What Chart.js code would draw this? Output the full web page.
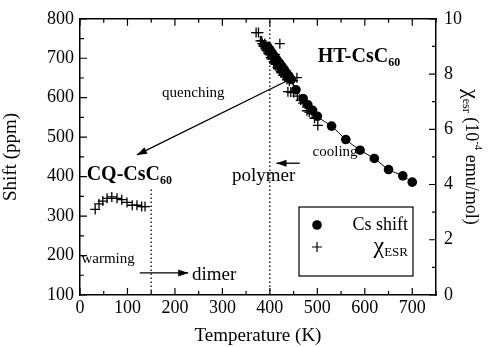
<!DOCTYPE html>
<html>
<head>
<meta charset="utf-8">
<script src="https://cdn.jsdelivr.net/npm/chart.js@4.4.1/dist/chart.umd.min.js"></script>
<style>
  html, body { margin: 0; padding: 0; background: #fff; }
  #wrap { width: 493px; height: 347px; }
</style>
</head>
<body>
<div id="wrap"><canvas id="myChart"></canvas></div>
<script>
// Cs NMR shift (left axis, ppm)
const csT     = [395, 400, 405, 410, 415, 420, 425, 430, 435, 440, 445, 455, 470, 480, 490, 500, 530, 560, 590, 620, 650, 680, 700];
const csShift = [730, 722, 713, 705, 696, 688, 680, 672, 663, 655, 646, 620, 598, 582, 568, 553, 528, 494, 467, 446, 418, 402, 386];

// ESR susceptibility, HT phase (right axis, 10^-4 emu/mol)
const esrT   = [371, 376, 380, 383, 384, 386, 387, 389, 390, 391, 393, 394, 396, 397, 399, 400, 402, 403, 405, 406, 408, 409, 411, 412, 413, 416, 417, 419, 421, 420, 423, 424, 426, 428, 430, 432, 434, 436, 438, 441, 442, 449, 457, 438, 444, 450, 458, 465, 470, 478, 483, 489, 494, 501];
const esrChi = [9.5, 9.5, 9.2, 9.2, 9.1, 9.05, 9.0, 9.1, 8.95, 8.9, 8.85, 8.95, 8.8, 8.75, 8.7, 8.8, 8.6, 8.55, 8.55, 8.6, 8.45, 8.4, 8.7, 8.35, 8.45, 8.25, 8.2, 8.3, 9.1, 8.15, 8.1, 8.05, 8.15, 7.95, 7.95, 7.9, 8.0, 7.8, 7.85, 7.75, 7.9, 7.76, 7.87, 7.36, 7.35, 7.33, 7.2, 7.05, 6.95, 6.67, 6.62, 6.57, 6.4, 6.14];

// ESR susceptibility, CQ phase
const cqT   = [32, 40, 48, 57, 67, 78, 88, 99, 110, 120, 130, 137];
const cqChi = [3.1, 3.3, 3.4, 3.5, 3.55, 3.5, 3.45, 3.35, 3.25, 3.25, 3.2, 3.2];

// dotted transition markers (K)
const dimerT = 150;
const polymerT = 400;

const xTicks = [0, 100, 200, 300, 400, 500, 600, 700];

const serif = "'Liberation Serif', 'DejaVu Serif', serif";

function pts(xs, ys) {
  return xs.map((v, i) => ({ x: v, y: ys[i] }));
}

function drawParts(ctx, parts, x, y, align) {
  let w = 0;
  parts.forEach(p => { ctx.font = p.font; w += ctx.measureText(p.t).width; });
  let cx = align === 'center' ? x - w / 2 : (align === 'right' ? x - w : x);
  parts.forEach(p => {
    ctx.font = p.font;
    ctx.fillText(p.t, cx, y + (p.dy || 0));
    cx += ctx.measureText(p.t).width;
  });
}

function arrow(ctx, x1, y1, x2, y2) {
  ctx.beginPath();
  ctx.moveTo(x1, y1); ctx.lineTo(x2, y2);
  ctx.stroke();
  const a = Math.atan2(y2 - y1, x2 - x1);
  const L = 10, W = 3.5;
  ctx.beginPath();
  ctx.moveTo(x2, y2);
  ctx.lineTo(x2 - L * Math.cos(a) + W * Math.sin(a), y2 - L * Math.sin(a) - W * Math.cos(a));
  ctx.lineTo(x2 - L * Math.cos(a) - W * Math.sin(a), y2 - L * Math.sin(a) + W * Math.cos(a));
  ctx.closePath();
  ctx.fill();
}

const extras = {
  id: 'extras',
  afterDatasetsDraw(chart) {
    const { ctx, chartArea: a, scales: { x, y, y2 } } = chart;
    const X = v => x.getPixelForValue(v);
    const Y = v => y.getPixelForValue(v);
    ctx.save();
    ctx.strokeStyle = '#000';
    ctx.fillStyle = '#000';

    // inward ticks on all four sides
    ctx.lineWidth = 1.2;
    ctx.beginPath();
    for (let t = 0; t <= 750; t += 50) {
      const px = X(t), len = t % 100 === 0 ? 7 : 4;
      ctx.moveTo(px, a.bottom); ctx.lineTo(px, a.bottom - len);
      ctx.moveTo(px, a.top); ctx.lineTo(px, a.top + len);
    }
    for (let v = 100; v <= 800; v += 50) {
      const py = Y(v), len = v % 100 === 0 ? 7 : 4;
      ctx.moveTo(a.left, py); ctx.lineTo(a.left + len, py);
    }
    for (let v = 0; v <= 10; v += 1) {
      const py = y2.getPixelForValue(v), len = v % 2 === 0 ? 7 : 4;
      ctx.moveTo(a.right, py); ctx.lineTo(a.right - len, py);
    }
    ctx.stroke();

    // arrows
    ctx.lineWidth = 1.3;
    arrow(ctx, X(445), Y(648), X(120), Y(455));
    arrow(ctx, X(463), Y(434), X(414), Y(434));
    arrow(ctx, X(126), Y(156), X(228), Y(156));

    // annotations
    ctx.textBaseline = 'middle';
    ctx.textAlign = 'left';
    drawParts(ctx, [
      { t: 'HT-CsC', font: 'bold 20px ' + serif },
      { t: '60', font: 'bold 12px ' + serif, dy: 6 }
    ], X(501), Y(703), 'left');
    drawParts(ctx, [
      { t: 'CQ-CsC', font: 'bold 20px ' + serif },
      { t: '60', font: 'bold 12px ' + serif, dy: 6 }
    ], X(14), Y(405), 'left');
    drawParts(ctx, [{ t: 'quenching', font: '15px ' + serif }], X(173), Y(613), 'left');
    drawParts(ctx, [{ t: 'cooling', font: '15px ' + serif }], X(490), Y(461), 'left');
    drawParts(ctx, [{ t: 'polymer', font: '19px ' + serif }], X(320), Y(401), 'left');
    drawParts(ctx, [{ t: 'warming', font: '15px ' + serif }], X(3), Y(192), 'left');
    drawParts(ctx, [{ t: 'dimer', font: '19px ' + serif }], X(236), Y(150), 'left');

    // legend box
    const bx = 299, by = 207, bw = 114, bh = 69;
    ctx.lineWidth = 1.2;
    ctx.strokeRect(bx, by, bw, bh);
    ctx.beginPath();
    ctx.arc(bx + 18, by + 18, 4.8, 0, Math.PI * 2);
    ctx.fill();
    ctx.beginPath();
    ctx.moveTo(bx + 13, by + 40); ctx.lineTo(bx + 23, by + 40);
    ctx.moveTo(bx + 18, by + 35); ctx.lineTo(bx + 18, by + 45);
    ctx.stroke();
    drawParts(ctx, [{ t: 'Cs shift', font: '18px ' + serif }], bx + bw - 5, by + 18, 'right');
    drawParts(ctx, [
      { t: 'χ', font: '24px ' + serif },
      { t: 'ESR', font: '13px ' + serif, dy: 6 }
    ], bx + bw - 5, by + 40, 'right');

    // right axis title, rotated
    ctx.translate(471, (a.top + a.bottom) / 2);
    ctx.rotate(Math.PI / 2);
    drawParts(ctx, [
      { t: 'χ', font: '22px ' + serif },
      { t: 'esr', font: '12px ' + serif, dy: 5 },
      { t: ' (10', font: '18px ' + serif },
      { t: '-4', font: '11px ' + serif, dy: -7 },
      { t: ' emu/mol)', font: '18px ' + serif }
    ], 0, 0, 'center');
    ctx.restore();
  }
};

new Chart(document.getElementById('myChart'), {
  type: 'scatter',
  data: {
    datasets: [{
      label: 'Cs shift',
      data: pts(csT, csShift),
      yAxisID: 'y',
      showLine: true,
      cubicInterpolationMode: 'monotone',
      borderColor: '#000',
      borderWidth: 1,
      backgroundColor: '#000',
      pointStyle: 'circle',
      pointRadius: 4.8,
      pointBorderWidth: 0
    },
    {
      label: 'χESR',
      data: pts(esrT, esrChi),
      yAxisID: 'y2',
      borderColor: '#000',
      backgroundColor: '#000',
      pointStyle: 'cross',
      pointRadius: 5,
      pointBorderWidth: 1.3
    },
    {
      label: 'χESR CQ',
      data: pts(cqT, cqChi),
      yAxisID: 'y2',
      borderColor: '#000',
      backgroundColor: '#000',
      pointStyle: 'cross',
      pointRadius: 5,
      pointBorderWidth: 1.3
    },
    {
      label: 'dimer',
      data: [{ x: dimerT, y: 100 }, { x: dimerT, y: 370 }],
      yAxisID: 'y',
      showLine: true,
      borderColor: '#000',
      borderWidth: 1.3,
      borderDash: [1.5, 2.5],
      pointRadius: 0
    },
    {
      label: 'polymer',
      data: [{ x: polymerT, y: 100 }, { x: polymerT, y: 800 }],
      yAxisID: 'y',
      showLine: true,
      borderColor: '#000',
      borderWidth: 1.3,
      borderDash: [1.5, 2.5],
      pointRadius: 0
    }]
  },
  options: {
    responsive: true,
    maintainAspectRatio: false,
    animation: false,
    layout: { padding: { top: 18, left: 0, right: 0, bottom: 0 } },
    scales: {
      x: {
        type: 'linear',
        position: 'bottom',
        min: 0,
        max: 750,
        afterBuildTicks: s => { s.ticks = xTicks.map(v => ({ value: v })); },
        afterFit: s => { s.height = 52; },
        grid: { drawOnChartArea: false, drawTicks: false },
        border: { display: true, color: '#000', width: 1.5 },
        ticks: { color: '#000', padding: 2, font: { family: serif, size: 18 } },
        title: {
          display: true,
          text: 'Temperature (K)',
          color: '#000',
          padding: { top: 0, bottom: 0 },
          font: { family: serif, size: 19 }
        }
      },
      x2: {
        type: 'linear',
        position: 'top',
        min: 0,
        max: 750,
        afterFit: s => { s.height = 0; },
        grid: { drawOnChartArea: false, drawTicks: false },
        border: { display: true, color: '#000', width: 1.5 },
        ticks: { display: false }
      },
      y: {
        position: 'left',
        min: 100,
        max: 800,
        afterFit: s => { s.width = 80; },
        grid: { drawOnChartArea: false, drawTicks: false },
        border: { display: true, color: '#000', width: 1.5 },
        ticks: { stepSize: 100, color: '#000', padding: 6, font: { family: serif, size: 18 } },
        title: {
          display: true,
          text: 'Shift (ppm)',
          color: '#000',
          padding: { top: 0, bottom: 2 },
          font: { family: serif, size: 19 }
        }
      },
      y2: {
        position: 'right',
        min: 0,
        max: 10,
        afterFit: s => { s.width = 57; },
        grid: { drawOnChartArea: false, drawTicks: false },
        border: { display: true, color: '#000', width: 1.5 },
        ticks: { stepSize: 2, color: '#000', padding: 8, font: { family: serif, size: 18 } }
      }
    },
    plugins: {
      legend: { display: false },
      tooltip: { enabled: false }
    }
  },
  plugins: [extras]
});
</script>
</body>
</html>
